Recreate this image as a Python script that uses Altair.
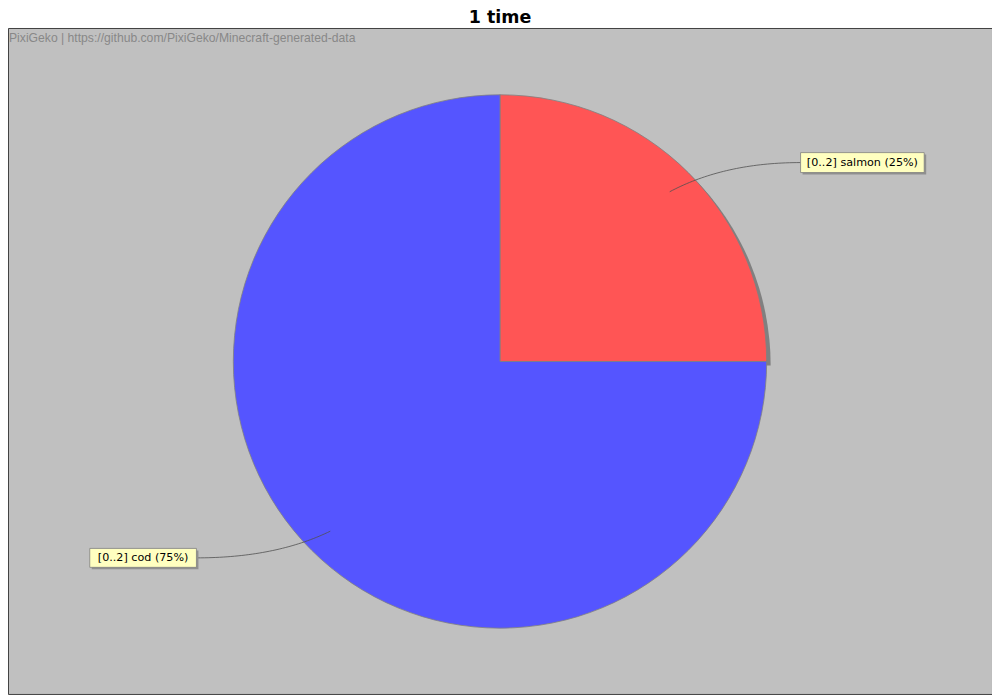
import math
import altair as alt
import pandas as pd

# ---------------- data ----------------
categories = ["[0..2] salmon", "[0..2] cod"]
values = [1, 3]
colors = ["#FF5555", "#5555FF"]
title_text = "1 time"
watermark_text = "PixiGeko | https://github.com/PixiGeko/Minecraft-generated-data"

# ---------------- layout (pixels) ----------------
OX, OY = 8, 27            # page position of plot area's top-left
W, H = 987, 668           # plot area size
CX, CY, R = 501.5 - OX, 361.5 - OY, 267.5   # pie centre & radius (view coords)
SHADOW = 4
# label boxes in page coordinates: x0, y0, x1, y1
label_boxes = {
    "[0..2] salmon": (803, 152, 927, 172),
    "[0..2] cod": (90, 549, 197, 568),
}

total = sum(values)
pcts = [v / total * 100 for v in values]
labels = [f"{c} ({p:.0f}%)" for c, p in zip(categories, pcts)]

pie_df = pd.DataFrame({"category": categories, "value": values,
                       "idx": list(range(len(categories))), "label": labels})

# label boxes & connectors derived from slice angles
box_rows, line_rows = [], []
cum = 0.0
for c, v, lab in zip(categories, values, labels):
    mid = (cum + v / 2) / total
    cum += v
    a = 2 * math.pi * mid
    ax = CX + math.sin(a) * 0.9 * R
    ay = CY - math.cos(a) * 0.9 * R
    x0, y0, x1, y1 = label_boxes[c]
    x0, x1, y0, y1 = x0 - OX, x1 - OX, y0 - OY, y1 - OY
    right = math.sin(a) > 0
    ex = x0 if right else x1
    ey = (y0 + y1) / 2
    ctrlx = ax + (55 if right else -55)
    ctrly = ey
    for i in range(41):
        t = i / 40
        bx = (1 - t) ** 2 * ax + 2 * t * (1 - t) * ctrlx + t ** 2 * ex
        by = (1 - t) ** 2 * ay + 2 * t * (1 - t) * ctrly + t ** 2 * ey
        line_rows.append({"category": c, "t": t, "x": bx, "y": by})
    box_rows.append({"category": c, "label": lab, "x0": x0, "x1": x1, "y0": y0, "y1": y1,
                     "sx0": x0 + 2, "sx1": x1 + 2, "sy0": y0 + 2, "sy1": y1 + 2,
                     "tx": (x0 + x1) / 2, "ty": ey})

box_df = pd.DataFrame(box_rows)
line_df = pd.DataFrame(line_rows)

xs = alt.Scale(domain=[0, W], nice=False, zero=False)
ys = alt.Scale(domain=[0, H], nice=False, zero=False, reverse=True)

shadow = alt.Chart(pd.DataFrame({"v": [1]})).mark_arc(radius=R, fill="#808080").encode(
    theta="v:Q", x=alt.value(CX + SHADOW), y=alt.value(CY + SHADOW))

pie = alt.Chart(pie_df).mark_arc(radius=R, stroke="#808080", strokeWidth=0.8).encode(
    theta=alt.Theta("value:Q", stack=True),
    color=alt.Color("category:N", scale=alt.Scale(domain=categories, range=colors), legend=None),
    order=alt.Order("idx:Q"),
    x=alt.value(CX), y=alt.value(CY))

connector = alt.Chart(line_df).mark_line(color="#505050", strokeWidth=0.8).encode(
    x=alt.X("x:Q", scale=xs, axis=None),
    y=alt.Y("y:Q", scale=ys, axis=None),
    detail="category:N", order="t:Q")

box_shadow = alt.Chart(box_df).mark_rect(fill="#909090").encode(
    x=alt.X("sx0:Q", scale=xs, axis=None), x2="sx1:Q",
    y=alt.Y("sy0:Q", scale=ys, axis=None), y2="sy1:Q")

box = alt.Chart(box_df).mark_rect(fill="#FFFFC0", stroke="#808080", strokeWidth=0.8).encode(
    x=alt.X("x0:Q", scale=xs, axis=None), x2="x1:Q",
    y=alt.Y("y0:Q", scale=ys, axis=None), y2="y1:Q")

box_text = alt.Chart(box_df).mark_text(font="DejaVu Sans", fontSize=11.2, color="black",
                                       align="center", baseline="middle").encode(
    x=alt.X("tx:Q", scale=xs, axis=None), y=alt.Y("ty:Q", scale=ys, axis=None), text="label:N")

watermark = alt.Chart(pd.DataFrame({"t": [watermark_text]})).mark_text(
    font="Liberation Sans", fontSize=12.2, color="#888888", align="left", baseline="middle").encode(
    x=alt.value(1), y=alt.value(10), text="t:N")

chart = alt.layer(shadow, pie, connector, box_shadow, box, box_text, watermark).properties(
    width=W, height=H,
    title=alt.Title(title_text, fontSize=17.5, font="DejaVu Sans", fontWeight="bold",
                    anchor="middle", offset=2, color="black"),
    autosize=alt.AutoSizeParams(type="none"),
    padding={"left": 0, "top": 19, "right": 0, "bottom": 0},
    background="white",
).configure_view(fill="#C0C0C0", stroke="#404040", strokeWidth=1)

chart.save("out.html", embed_options={"renderer": "svg", "actions": False})
